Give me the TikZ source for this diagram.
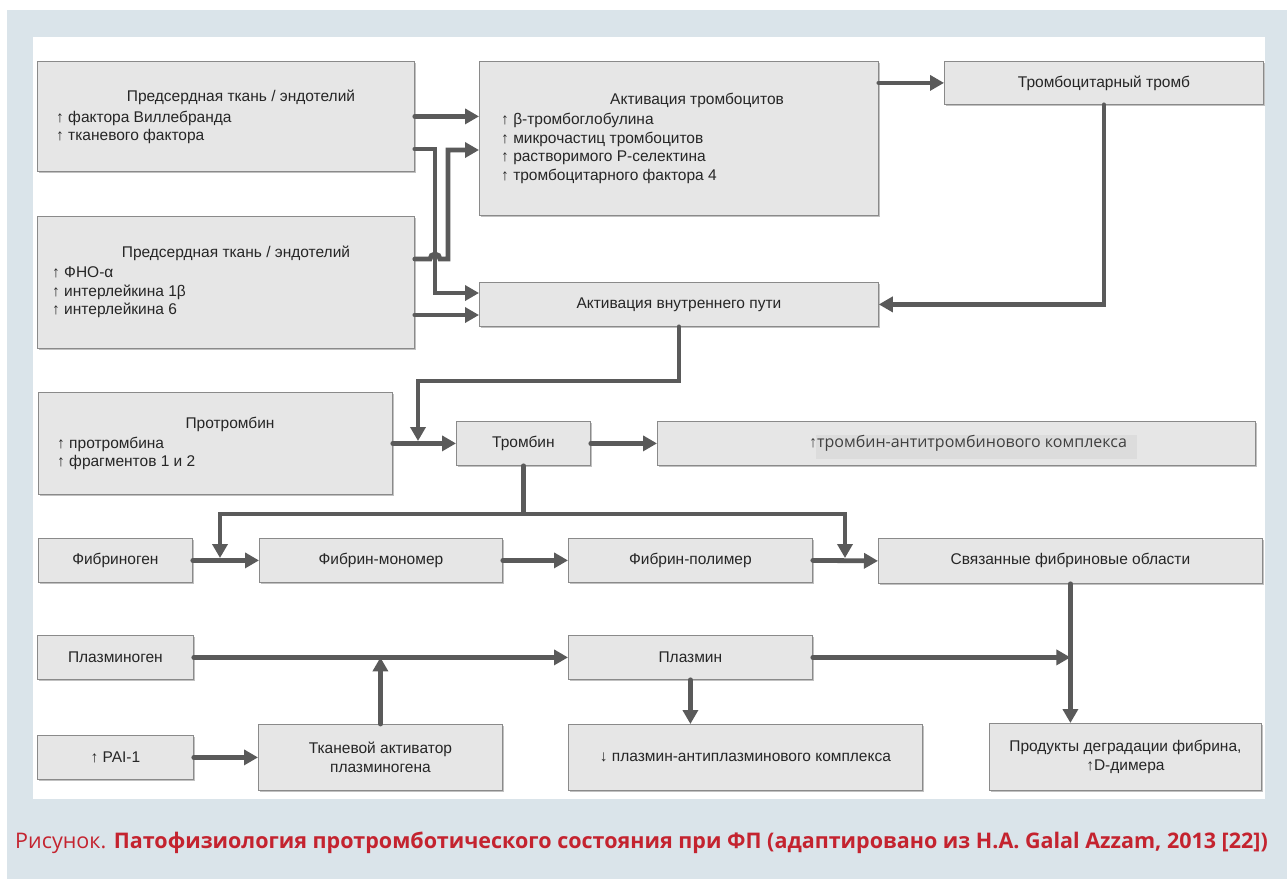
\documentclass[tikz,border=0pt]{standalone}
\usepackage{fontspec}
\setmainfont{Liberation Sans}
\newfontfamily\capfont{Open Sans}
\newfontfamily\arrfont{Liberation Sans}
\usetikzlibrary{arrows.meta,shadows}

\definecolor{bgblue}{HTML}{DAE4EA}
\definecolor{boxgray}{HTML}{E6E6E6}
\definecolor{hlgray}{HTML}{DCDCDC}
\definecolor{edgegray}{HTML}{8A8A8A}
\definecolor{linegray}{HTML}{5A5A5A}
\definecolor{capred}{HTML}{C4232F}

\begin{document}
\begin{tikzpicture}[x=1pt, y=-1pt,
    box/.style={draw=edgegray, fill=boxgray, line width=0.8pt, anchor=north west, inner sep=0pt,
        align=center, font=\fontsize{15.5}{19.5}\selectfont, text=black!85,
        drop shadow={shadow xshift=1.5pt, shadow yshift=-1.5pt, fill=black!40, opacity=0.6}},
    lbl/.style={font=\fontsize{15.5}{18}\selectfont, text=black!85, inner sep=0pt},
    item/.style={lbl, anchor=base west},
    arr/.style={draw=linegray, line width=4.8pt, line cap=round, -{Triangle[length=14pt,width=15pt]}}
    ]
    \useasboundingbox (0,0) rectangle (1287,879);
    \fill[bgblue] (7,10) rectangle (1287,879);
    \fill[white] (33,37) rectangle (1265,799);

    % boxes
    \node[box, minimum width=377pt, minimum height=110pt] (endoA) at (37,61) {};
    \node[box, minimum width=377pt, minimum height=132pt] (endoB) at (37,216) {};
    \node[box, minimum width=399pt, minimum height=154pt] (plt) at (479,61) {};
    \node[box, minimum width=319pt, minimum height=43pt] (thr) at (944,61) {Тромбоцитарный тромб};
    \node[box, minimum width=399pt, minimum height=44pt] (intr) at (479,282) {Активация внутреннего пути};
    \node[box, minimum width=354pt, minimum height=102pt] (proth) at (38,392) {};
    \node[box, minimum width=134pt, minimum height=44pt] (thrombin) at (456,421) {Тромбин};
    \node[box, minimum width=598pt, minimum height=44pt] (tat) at (657,421) {};
    \node[box, minimum width=154pt, minimum height=44pt] (fibrinogen) at (38,538) {Фибриноген};
    \node[box, minimum width=243pt, minimum height=44pt] (mono) at (259,538) {Фибрин-мономер};
    \node[box, minimum width=244pt, minimum height=44pt] (poly) at (568,538) {Фибрин-полимер};
    \node[box, minimum width=384pt, minimum height=45pt] (bound) at (878,538) {Связанные фибриновые области};
    \node[box, minimum width=156pt, minimum height=44pt] (plasminogen) at (37,635) {Плазминоген};
    \node[box, minimum width=244pt, minimum height=44pt] (plasmin) at (568,635) {Плазмин};
    \node[box, minimum width=156pt, minimum height=44pt] (pai) at (37,735) {↑ PAI-1};
    \node[box, minimum width=244pt, minimum height=66pt] (tpa) at (258,724) {Тканевой активатор\\плазминогена};
    \node[box, minimum width=354pt, minimum height=66pt] (pap) at (568,724) {↓ плазмин-антиплазминового комплекса};
    \node[box, minimum width=272pt, minimum height=67pt] (fdp) at (989,723) {Продукты деградации фибрина,\\↑D-димера};

    % texts of the list boxes
    \node[lbl] (endoAt) at (241,97) {Предсердная ткань / эндотелий};
    \node[item] (endoA1) at (56,122.5) {↑ фактора Виллебранда};
    \node[item] (endoA2) at (56,140.5) {↑ тканевого фактора};
    \node[lbl] (endoBt) at (236,253) {Предсердная ткань / эндотелий};
    \node[item] (endoB1) at (52,277.5) {↑ ФНО-α};
    \node[item] (endoB2) at (52,296.5) {↑ интерлейкина 1β};
    \node[item] (endoB3) at (52,314.5) {↑ интерлейкина 6};
    \node[lbl] (pltt) at (697,100) {Активация тромбоцитов};
    \node[item] (plt1) at (501,124.5) {↑ β-тромбоглобулина};
    \node[item] (plt2) at (501,143.5) {↑ микрочастиц тромбоцитов};
    \node[item] (plt3) at (501,161.5) {↑ растворимого Р-селектина};
    \node[item] (plt4) at (501,180.5) {↑ тромбоцитарного фактора 4};
    \node[lbl] (potht) at (230,424) {Протромбин};
    \node[item] (proth1) at (57,448.5) {↑ протромбина};
    \node[item] (proth2) at (57,466.5) {↑ фрагментов 1 и 2};
    \node[fill=hlgray, minimum width=321pt, minimum height=24pt, inner sep=0pt, anchor=north west] (tathl) at (816,435) {};
    \node[lbl, font=\capfont\fontsize{16}{18}\selectfont, text=black!75] (tatt) at (968,443) {{\arrfont ↑}тромбин-антитромбинового комплекса};

    % connectors
    \draw[arr] (endoA.east) -- (plt.west |- endoA.east);
    \draw[arr] (endoA.east |- 0,149) -- (435,149) -- (435,293) -- (intr.west |- 0,293);
    \draw[arr] (endoB.east |- 0,259) -- (430,259) arc[start angle=180, end angle=0, radius=5pt]
        -- (448,259) -- (448,150) -- (plt.west |- 0,150);
    \draw[arr] (endoB.east |- 0,315) -- (intr.west |- 0,315);
    \draw[arr] (plt.east |- thr.west) -- (thr.west);
    \draw[arr] (thr.south) |- (intr.east);
    \draw[arr] (intr.south) -- (intr.south |- 0,381) -| (418,441);
    \draw[arr] (proth.east |- thrombin.west) -- (thrombin.west);
    \draw[arr] (thrombin.east) -- (tat.west);
    \draw[arr] (thrombin.south) -- (thrombin.south |- 0,514) -| (220,558);
    \draw[arr] (thrombin.south |- 0,514) -| (845,558);
    \draw[arr] (fibrinogen.east) -- (mono.west);
    \draw[arr] (mono.east) -- (poly.west);
    \draw[arr] (poly.east) -- (bound.west);
    \draw[arr] (plasminogen.east) -- (plasmin.west);
    \draw[arr] (tpa.north) -- (tpa.north |- plasminogen.east);
    \draw[arr] (pai.east) -- (tpa.west |- pai.east);
    \draw[arr] (plasmin.east) -- (bound.south |- plasmin.east);
    \draw[arr] (bound.south) -- (bound.south |- fdp.north);
    \draw[arr] (plasmin.south) -- (plasmin.south |- pap.north);

    % caption
    \node[anchor=west, inner sep=0pt, text=capred, font=\capfont\fontsize{21.5}{24}\selectfont] (cap) at (15,843)
        {Рисунок. \textbf{Патофизиология протромботического состояния при ФП (адаптировано из H.A. Galal Azzam, 2013 [22])}};
\end{tikzpicture}
\end{document}
